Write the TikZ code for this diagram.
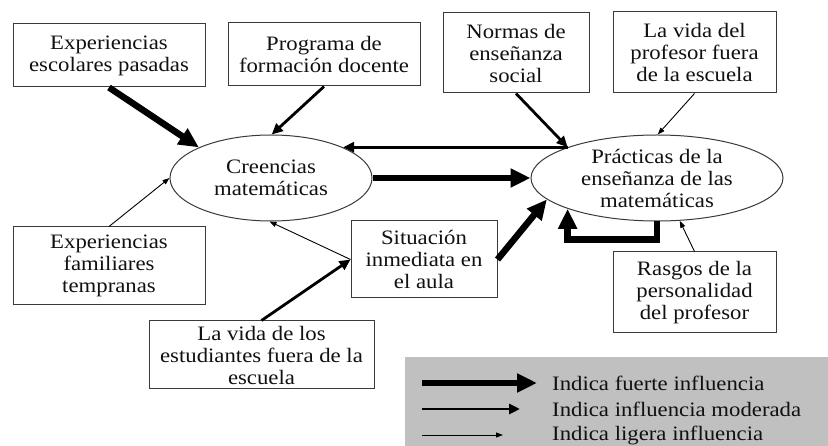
\documentclass[tikz,border=0pt]{standalone}
\usepackage{fontspec}
\setmainfont{Liberation Serif}[FakeStretch=1.11]
\usetikzlibrary{arrows.meta,shapes.geometric}
\definecolor{txt}{HTML}{111111}
\definecolor{bord}{HTML}{3A3A3A}
\definecolor{leggray}{HTML}{C0C0C0}
\begin{document}
\begin{tikzpicture}[x=1pt,y=-1pt,
  every node/.style={font=\fontsize{20.5}{22}\selectfont, text=txt},
  box/.style={draw=bord, line width=1pt, rectangle, align=center, inner sep=0pt},
  ell/.style={draw=bord, line width=1pt, ellipse, align=center, inner sep=0pt},
  strong/.style={line width=6.5pt, -{Triangle[length=20pt,width=18pt]}},
  moder/.style={line width=2.8pt, -{Triangle[length=11pt,width=10pt]}},
  light/.style={line width=0.9pt, -{Triangle[length=7pt,width=5pt]}},
  legtext/.style={anchor=west, inner sep=0pt}
]
\useasboundingbox (0,0) rectangle (828,446);
\fill[white] (0,0) rectangle (828,446);

% boxes
\node[box, minimum width=192pt, minimum height=63pt] (esc) at (109,55.5) {Experiencias\\escolares pasadas};
\node[box, minimum width=192pt, minimum height=63pt] (prog) at (324,54.5) {Programa de\\formación docente};
\node[box, minimum width=146pt, minimum height=80pt] (nor) at (516,53) {Normas de\\enseñanza\\social};
\node[box, minimum width=163pt, minimum height=81pt] (vp) at (694.5,52.5) {La vida del\\profesor fuera\\de la escuela};
\node[box, minimum width=192pt, minimum height=78pt] (fam) at (109,266) {Experiencias\\familiares\\tempranas};
\node[box, minimum width=146pt, minimum height=77pt] (sit) at (424,259.5) {Situación\\inmediata en\\el aula};
\node[box, minimum width=225pt, minimum height=68pt] (est) at (261.5,355) {La vida de los\\estudiantes fuera de la\\escuela};
\node[box, minimum width=163pt, minimum height=81pt] (ras) at (694.5,292.5) {Rasgos de la\\personalidad\\del profesor};

% ellipses
\node[ell, minimum width=202pt, minimum height=86pt] (cre) at (271,178) {Creencias\\matemáticas};
\node[ell, minimum width=252pt, minimum height=86pt] (pra) at (657,178) {Prácticas de la\\enseñanza de las\\matemáticas};

% connectors
\draw[strong] (esc.south) -- (cre.157);
\draw[moder] (prog.south) -- (cre.89);
\draw[moder] (pra.161) -- (pra.161 -| cre.23);
\draw[strong] (cre.east) -- (pra.west);
\draw[moder] (nor.south) -- (pra.161);
\draw[light] (vp.south) -- (pra.89);
\draw[light] (fam.north) -- (cre.west);
\draw[light] (sit.west) -- (cre.268);
\draw[moder] (est.north) -- (sit.west);
\draw[strong] (sit.east) -- (pra.191);
\draw[strong] (pra.south) -- ++(0,18) -| (pra.199);
\draw[light] (ras.north) -- (pra.298);

% legend
\fill[leggray] (405,357) rectangle (828,446);
\coordinate (l1a) at (422,383); \coordinate (l1b) at (537,383);
\coordinate (l2a) at (422,409); \coordinate (l2b) at (520,409);
\coordinate (l3a) at (422,435); \coordinate (l3b) at (503,435);
\draw[strong] (l1a) -- (l1b);
\draw[moder] (l2a) -- (l2b);
\draw[light] (l3a) -- (l3b);
\node[legtext] (t1) at (552,383) {Indica fuerte influencia};
\node[legtext] (t2) at (552,409) {Indica influencia moderada};
\node[legtext] (t3) at (552,435) {Indica ligera influencia};
\end{tikzpicture}
\end{document}
